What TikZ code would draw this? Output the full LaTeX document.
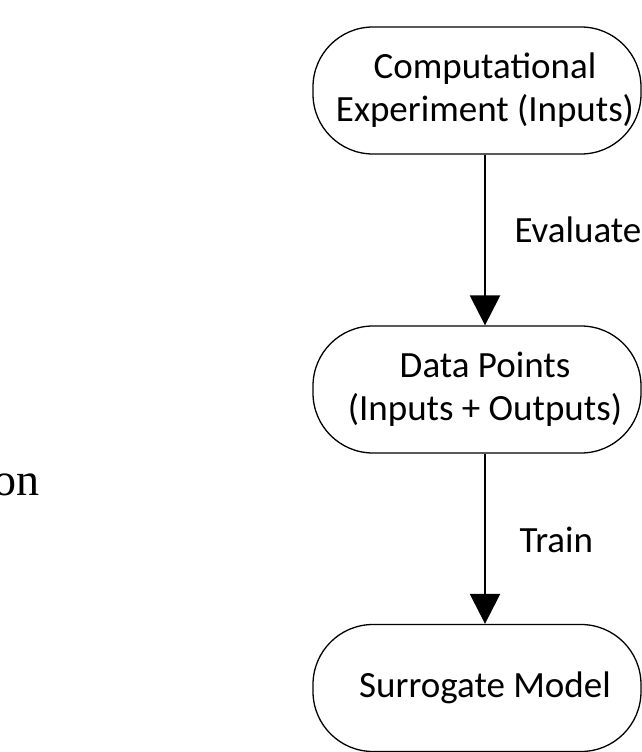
\documentclass[tikz,border=0pt]{standalone}
\usepackage{fontspec}
\setmainfont{Carlito}
\newfontfamily\serifname{Liberation Serif}
\usetikzlibrary{arrows.meta,positioning}

\tikzset{
  term/.style={draw,line width=1.3pt,rounded corners=60pt,minimum width=328pt,minimum height=127pt},
  boxtext/.style={align=center,xshift=8pt,font=\fontsize{37}{43}\selectfont},
  edgetext/.style={anchor=base west,font=\fontsize{37}{43}\selectfont},
  flow/.style={line width=2.5pt,-{Triangle[length=30pt,width=30pt]}}
}

\begin{document}
\begin{tikzpicture}[x=1pt,y=-1pt]
  \useasboundingbox (0,0) rectangle (642,752);
  \clip (0,0) rectangle (642,752);
  \node[term,label={[boxtext]center:Computational\\Experiment (Inputs)}] (comp) at (477,90.5) {};
  \node[term,label={[boxtext]center:Data Points\\(Inputs + Outputs)}] (data) at (477,389.5) {};
  \node[term,label={[boxtext]center:Surrogate Model}] (surr) at (477,688) {};
  \draw[flow] ([xshift=8pt]comp.south) -- ([xshift=8pt]data.north);
  \draw[flow] ([xshift=8pt]data.south) -- ([xshift=8pt]surr.north);
  \node[edgetext] (eval) at (511,242) {Evaluate};
  \node[edgetext] (train) at (516,552) {Train};
  % cut-off word on the left
  \node[anchor=base east,font=\serifname\fontsize{46}{50}\selectfont,inner sep=0pt] (frag) at (40,495) {on};
\end{tikzpicture}
\end{document}
